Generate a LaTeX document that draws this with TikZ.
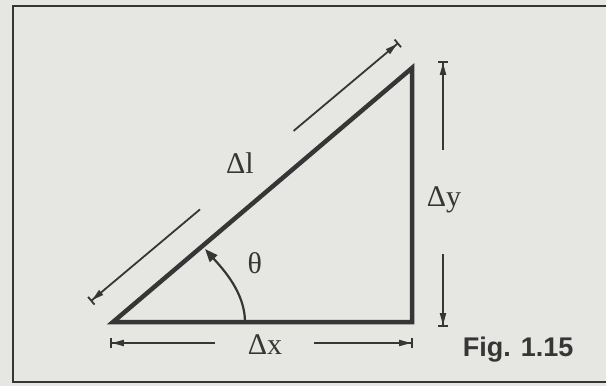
\documentclass[tikz,border=0pt]{standalone}
\usepackage{fontspec}
\setmainfont{Liberation Serif}
\newfontfamily\figfont{Liberation Sans}
\usetikzlibrary{arrows.meta}
\definecolor{bg}{HTML}{E6E6E3}
\definecolor{ink}{HTML}{363636}
\begin{document}
\begin{tikzpicture}[x=1pt,y=-1pt,
  tri/.style={line width=4.5pt, draw=ink, line join=miter},
  dimline/.style={draw=ink, line width=1.8pt, -{Triangle[length=12pt,width=6pt]Bar[width=10pt]}},
  lbl/.style={text=ink, font=\fontsize{30}{32}\selectfont, inner sep=0pt, anchor=base},
  figlbl/.style={text=ink, font=\figfont\bfseries\fontsize{27}{29}\selectfont, inner sep=0pt, anchor=base west},
  ]
\fill[bg] (0,0) rectangle (606,386);
\useasboundingbox (0,0) rectangle (606,386);
\clip (0,0) rectangle (606,386);
% frame
\coordinate (fa) at (13,6);
\coordinate (fb) at (630,382);
\draw[ink, line width=2.2pt] (fa) rectangle (fb);
% triangle
\coordinate (A) at (113,322);
\coordinate (B) at (412,322);
\coordinate (C) at (412,68);
\draw[tri] (A) -- (B) -- (C) -- cycle;
% delta l arrows
\coordinate (L1s) at (200,209.4);
\coordinate (L1e) at (90.6,301.3);
\coordinate (L2s) at (293.6,130.9);
\coordinate (L2e) at (398.5,42.8);
\draw[dimline] (L1s) -- (L1e);
\draw[dimline] (L2s) -- (L2e);
% delta y arrows
\coordinate (Y1s) at (443,150);
\coordinate (Y1e) at (443,61);
\coordinate (Y2s) at (443,254);
\coordinate (Y2e) at (443,327);
\draw[dimline] (Y1s) -- (Y1e);
\draw[dimline] (Y2s) -- (Y2e);
% delta x arrows
\coordinate (X1s) at (215,343);
\coordinate (X1e) at (110,343);
\coordinate (X2s) at (314,343);
\coordinate (X2e) at (413,343);
\draw[dimline] (X1s) -- (X1e);
\draw[dimline] (X2s) -- (X2e);
% angle arc
\coordinate (T1) at (245,322);
\coordinate (T2) at (205,249);
\draw[ink, line width=2.2pt, -{Triangle[length=13pt,width=10pt]}] (T1) .. controls (245,292) and (222,268) .. (T2);
% labels
\node[lbl] (dl) at (240,173) {Δl};
\node[lbl] (dy) at (444,206.7) {Δy};
\node[lbl] (dx) at (265,354) {Δx};
\node[lbl] (th) at (254.7,273) {θ};
\node[figlbl] (fig) at (462.7,356) {Fig. 1.15};
\end{tikzpicture}
\end{document}
